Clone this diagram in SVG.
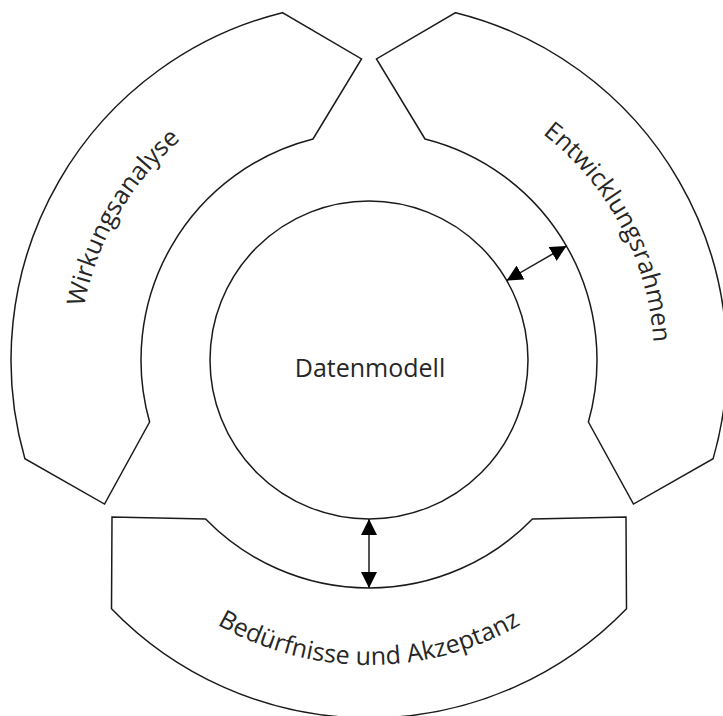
<svg xmlns="http://www.w3.org/2000/svg" width="723" height="716" viewBox="0 0 723 716">
  <style>
    .shape { fill: #ffffff; stroke: #1a1a1a; stroke-width: 1.5; }
    .lbl { font-family: "Open Sans", "Noto Sans", "DejaVu Sans", sans-serif; font-weight: 400; font-size: 25px; fill: #262626; }
    .conn { stroke: #1a1a1a; stroke-width: 1.5; fill: none; marker-start: url(#ah); marker-end: url(#ah); }
  </style>
  <defs>
    <path id="seg" d="M -163.4 159 L -257 157 L -257.5 248.7 A 358 358 0 0 0 257.5 248.7 L 257 157 L 163.4 159 A 228 228 0 0 1 -163.4 159 Z"/>
    <marker id="ah" viewBox="0 0 16 16" markerWidth="16" markerHeight="16" refX="16" refY="8" orient="auto-start-reverse" markerUnits="userSpaceOnUse">
      <path d="M0,0 L16,8 L0,16 Z" fill="#000"/>
    </marker>
    <path id="tpLeft" d="M 83.4 410.4 A 291 291 0 0 1 269.8 87.5"/>
    <path id="tpRight" d="M 466.5 92.2 A 285 285 0 0 1 645.5 428.9"/>
    <path id="tpBottom" d="M 173 593.6 A 305 305 0 0 0 565 593.6"/>
  </defs>
  <rect width="723" height="716" fill="#ffffff"/>

  <g id="wirkungsanalyse">
    <use href="#seg" class="shape" transform="translate(369 360) rotate(120)"/>
    <text class="lbl"><textPath href="#tpLeft" startOffset="50%" text-anchor="middle">Wirkungsanalyse</textPath></text>
  </g>

  <g id="entwicklungsrahmen">
    <use href="#seg" class="shape" transform="translate(369 360) rotate(-120)"/>
    <text class="lbl"><textPath href="#tpRight" startOffset="50%" text-anchor="middle">Entwicklungsrahmen</textPath></text>
  </g>

  <g id="beduerfnisse">
    <use href="#seg" class="shape" transform="translate(369 360)"/>
    <text class="lbl"><textPath href="#tpBottom" startOffset="50%" text-anchor="middle">Bedürfnisse und Akzeptanz</textPath></text>
  </g>

  <g id="datenmodell">
    <circle cx="369" cy="360" r="159" class="shape"/>
    <text class="lbl" x="370" y="377" text-anchor="middle">Datenmodell</text>
  </g>

  <g id="connectors">
    <line class="conn" x1="369" y1="519" x2="369" y2="588"/>
    <line class="conn" x1="506.7" y1="280.5" x2="566.5" y2="246"/>
  </g>
</svg>
